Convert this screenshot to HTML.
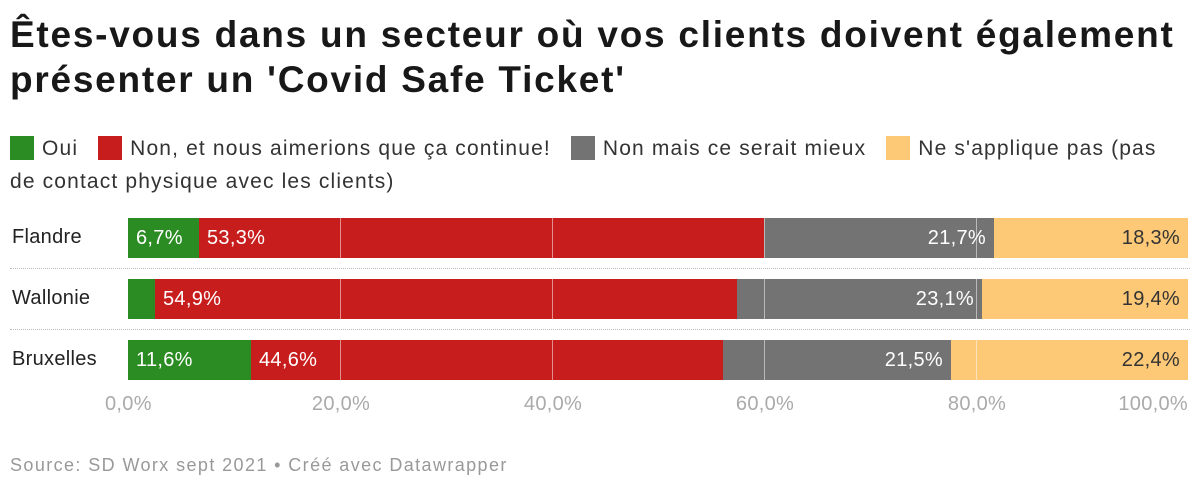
<!DOCTYPE html>
<html><head><meta charset="utf-8"><style>
*{margin:0;padding:0;box-sizing:border-box}
body{width:1200px;height:490px;background:#fff;font-family:"Liberation Sans",sans-serif;position:relative;overflow:hidden;color:#222}
h1{position:absolute;left:10px;top:12px;font-size:37px;line-height:45px;font-weight:bold;letter-spacing:1.75px;color:#181818;white-space:nowrap}
.leg{position:absolute;left:10px;top:132px;width:1190px;font-size:21px;line-height:33px;color:#333;letter-spacing:1.15px;white-space:nowrap}
.leg span.sw{display:inline-block;width:24px;height:24px;vertical-align:-5px;margin-right:8px}
.leg .it{margin-right:20px}
.row{position:absolute;left:0;width:1200px;height:40px}
.lab{position:absolute;left:12px;top:8px;font-size:20px;color:#222;letter-spacing:0.3px}
.seg{position:absolute;top:0;height:40px;font-size:20px;line-height:40px;color:#fff;padding:0 8px;white-space:nowrap;letter-spacing:0.3px}
.r{text-align:right}
.g{background:#2b8c23}.rd{background:#c71e1d}.gr{background:#737373}.y{background:#fdc977;color:#333}
.grid{position:absolute;top:210px;height:178px;width:1px;background:rgba(255,255,255,0.5)}
.sep{position:absolute;left:10px;width:1180px;border-top:1px dotted #bbb}
.ax{position:absolute;top:393px;font-size:20px;color:#aaa;transform:translateX(-50%);letter-spacing:0.3px}
.src{position:absolute;left:10px;top:455px;font-size:18px;color:#999;letter-spacing:1.4px}
</style></head><body>
<h1>Êtes-vous dans un secteur où vos clients doivent également<br>présenter un 'Covid Safe Ticket'</h1>
<div class="leg"><span class="it"><span class="sw g"></span>Oui</span><span class="it"><span class="sw rd"></span>Non, et nous aimerions que ça continue!</span><span class="it"><span class="sw gr"></span>Non mais ce serait mieux</span><span class="it" style="margin-right:0"><span class="sw y" style="background:#fdc977"></span>Ne s'applique pas (pas</span><br>de contact physique avec les clients)</div>

<div class="row" style="top:218px"><div class="lab">Flandre</div>
<div class="seg g" style="left:128px;width:71px">6,7%</div>
<div class="seg rd" style="left:199px;width:565px">53,3%</div>
<div class="seg gr r" style="left:764px;width:230px">21,7%</div>
<div class="seg y r" style="left:994px;width:194px">18,3%</div></div>

<div class="row" style="top:279px"><div class="lab">Wallonie</div>
<div class="seg g" style="left:128px;width:27px"></div>
<div class="seg rd" style="left:155px;width:582px">54,9%</div>
<div class="seg gr r" style="left:737px;width:245px">23,1%</div>
<div class="seg y r" style="left:982px;width:206px">19,4%</div></div>

<div class="row" style="top:340px"><div class="lab">Bruxelles</div>
<div class="seg g" style="left:128px;width:123px">11,6%</div>
<div class="seg rd" style="left:251px;width:472px">44,6%</div>
<div class="seg gr r" style="left:723px;width:228px">21,5%</div>
<div class="seg y r" style="left:951px;width:237px">22,4%</div></div>

<div class="grid" style="left:340px"></div><div class="grid" style="left:552px"></div><div class="grid" style="left:764px"></div><div class="grid" style="left:976px"></div>
<div class="sep" style="top:268px"></div><div class="sep" style="top:329px"></div>

<div class="ax" style="left:105px;transform:none">0,0%</div><div class="ax" style="left:341px">20,0%</div><div class="ax" style="left:553px">40,0%</div><div class="ax" style="left:765px">60,0%</div><div class="ax" style="left:977px">80,0%</div><div class="ax" style="right:12px;transform:none">100,0%</div>
<div class="src">Source: SD Worx sept 2021 • Créé avec Datawrapper</div>
</body></html>
